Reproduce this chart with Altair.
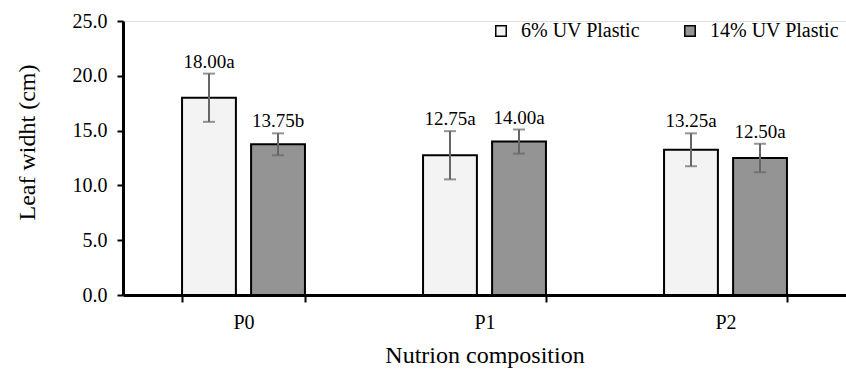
import altair as alt
import pandas as pd

categories = ["P0", "P1", "P2"]
series = ["6% UV Plastic", "14% UV Plastic"]
means_6 = [18.00, 12.75, 13.25]
means_14 = [13.75, 14.00, 12.50]
err_6 = [2.2, 2.2, 1.5]
err_14 = [1.0, 1.1, 1.3]
letters_6 = ["a", "a", "a"]
letters_14 = ["b", "a", "a"]
y_ticks = [0, 5, 10, 15, 20, 25]

rows = []
for i, c in enumerate(categories):
    for s, m, e, l in ((series[0], means_6[i], err_6[i], letters_6[i]),
                       (series[1], means_14[i], err_14[i], letters_14[i])):
        rows.append({"cat": c, "ser": s, "mean": m, "lo": m - e, "hi": m + e,
                     "label": f"{m:.2f}{l}"})
df = pd.DataFrame(rows)

FONT = "'Liberation Serif', 'Times New Roman', Tinos, 'DejaVu Serif', serif"

x = alt.X("cat:N", sort=categories,
          scale=alt.Scale(paddingInner=0.49, paddingOuter=0.245),
          axis=alt.Axis(title="Nutrion composition", labelAngle=0, tickBand="extent",
                        domainWidth=3, domainColor="black", tickColor="black",
                        tickWidth=2, tickSize=7, labelPadding=10, labelFontSize=20,
                        labelFont=FONT, labelColor="black", titleFont=FONT,
                        titleFontSize=24, titleFontWeight="normal", titleColor="black",
                        titlePadding=11))
xo = alt.XOffset("ser:N", sort=series,
                 scale=alt.Scale(paddingInner=0.22, paddingOuter=0))

base = alt.Chart(df)

bars = base.mark_bar(stroke="black", strokeWidth=2).encode(
    x=x, xOffset=xo,
    y=alt.Y("mean:Q", scale=alt.Scale(domain=[0, 25], nice=False),
            axis=alt.Axis(title="Leaf widht (cm)", values=y_ticks, format=".1f",
                          grid=False, domainWidth=3, domainColor="black",
                          tickColor="black", tickWidth=2, tickSize=6,
                          labelPadding=10, labelFontSize=20, labelFont=FONT,
                          labelColor="black", titleFont=FONT, titleFontSize=24,
                          titleFontWeight="normal", titleColor="black",
                          titleX=-96, titleY=121, titleAngle=270,
                          titleAlign="center", titleBaseline="middle")),
    fill=alt.Fill("ser:N", sort=series,
                  scale=alt.Scale(domain=series, range=["#f3f3f3", "#949494"]),
                  legend=alt.Legend(title=None, orient="none", direction="horizontal",
                                    legendX=368, legendY=0, symbolType="square",
                                    symbolSize=110, symbolStrokeColor="black",
                                    symbolStrokeWidth=1.5, labelFont=FONT,
                                    labelFontSize=20, labelColor="black",
                                    labelOffset=10, columnPadding=40)),
)

rules = base.mark_rule(color="#666666", strokeWidth=2).encode(
    x=x, xOffset=xo, y="lo:Q", y2="hi:Q")
caps_hi = base.mark_tick(color="#666666", thickness=2, size=12).encode(
    x=x, xOffset=xo, y="hi:Q")
caps_lo = base.mark_tick(color="#666666", thickness=2, size=12).encode(
    x=x, xOffset=xo, y="lo:Q")
labels = base.mark_text(font=FONT, fontSize=19, color="black", dy=-12,
                        baseline="middle").encode(
    x=x, xOffset=xo, y="hi:Q", text="label:N")

chart = alt.layer(bars, rules, caps_hi, caps_lo, labels).properties(
    width=723, height=274,
    autosize=alt.AutoSizeParams(type="none"),
    padding={"left": 123, "top": 21, "right": 0, "bottom": 76},
).configure_view(stroke=None).configure(background="white")

chart.save("out.html", embed_options={"renderer": "svg", "actions": False})
